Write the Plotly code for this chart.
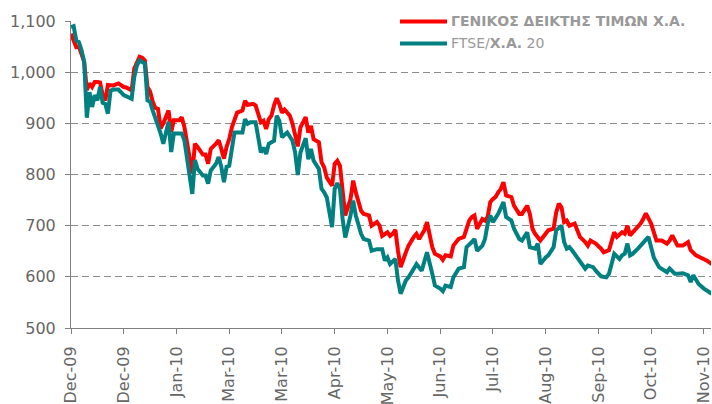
import plotly.graph_objects as go

# Trading-day index (0 = first session of Dec-09) and index levels
tick_days = [0, 20, 40, 60, 80, 100, 120, 140, 160, 180, 200, 220, 240]
tick_labels = ["Dec-09", "Dec-09", "Jan-10", "Mar-10", "Mar-10", "Apr-10", "May-10",
               "Jun-10", "Jul-10", "Aug-10", "Sep-10", "Oct-10", "Nov-10"]

gen_days = [0, 1, 2, 3, 4, 5, 6, 7, 8, 9, 10, 11, 12, 13, 14, 16, 18, 20, 21, 23, 24, 25, 26, 27, 28,
            29, 30, 31, 32, 33, 34, 35, 36, 37, 38, 39, 41, 42, 43, 44, 45, 46, 47, 48, 50, 51, 52, 53,
            55, 56, 57, 58, 59, 60, 61, 63, 65, 66, 67, 69, 70, 71, 72, 73, 74, 75, 76, 77, 78, 79, 80,
            81, 83, 84, 86, 87, 89, 90, 91, 92, 94, 95, 96, 97, 99, 100, 101, 102, 103, 104, 106, 107,
            108, 110, 111, 113, 114, 116, 117, 118, 120, 121, 122, 123, 124, 125, 127, 128, 130, 131,
            132, 134, 135, 137, 138, 140, 141, 142, 144, 145, 147, 149, 151, 152, 153, 154, 156, 157,
            158, 159, 160, 161, 162, 163, 164, 165, 167, 168, 170, 171, 173, 174, 175, 176, 178, 180,
            181, 183, 184, 185, 186, 187, 188, 189, 191, 192, 193, 195, 196, 197, 199, 201, 202, 204,
            205, 206, 207, 209, 210, 211, 212, 213, 214, 216, 217, 218, 220, 221, 222, 224, 226, 227,
            228, 230, 232, 234, 235, 237, 239, 241, 243]
gen_vals = [1075, 1062, 1049, 1050, 1036, 1020, 965, 978, 971, 981, 981, 980, 956, 945, 975, 974, 978,
            971, 970, 964, 1007, 1020, 1030, 1028, 1023, 971, 962, 942, 930, 928, 890, 900, 912, 925,
            883, 906, 906, 912, 893, 860, 830, 802, 860, 854, 839, 839, 821, 850, 860, 867, 850, 831,
            854, 869, 892, 921, 925, 944, 936, 938, 935, 920, 902, 905, 889, 908, 915, 935, 949, 938,
            921, 927, 915, 899, 855, 892, 912, 882, 895, 869, 863, 824, 814, 794, 778, 821, 827, 817,
            765, 720, 752, 788, 765, 729, 723, 720, 700, 707, 700, 680, 687, 680, 684, 692, 651, 619,
            648, 661, 678, 684, 674, 691, 707, 658, 645, 640, 633, 642, 640, 661, 674, 678, 710, 717,
            720, 694, 713, 710, 717, 746, 752, 756, 765, 772, 785, 759, 756, 739, 723, 723, 739, 723,
            694, 684, 671, 684, 691, 694, 726, 743, 736, 707, 710, 700, 704, 691, 678, 668, 661, 671,
            665, 655, 648, 652, 668, 687, 678, 687, 684, 700, 681, 687, 691, 704, 713, 724, 704, 687,
            671, 671, 665, 671, 681, 661, 661, 668, 652, 642, 638, 632, 625]

ftse_days = [0, 1, 2, 3, 4, 5, 6, 7, 8, 9, 10, 11, 12, 13, 14, 15, 16, 18, 20, 21, 23, 24, 25, 26, 28,
             29, 30, 31, 32, 33, 34, 35, 36, 37, 38, 39, 41, 42, 43, 45, 46, 47, 48, 50, 51, 52, 53,
             55, 56, 57, 58, 59, 60, 61, 62, 65, 66, 67, 68, 70, 72, 73, 74, 75, 77, 78, 79, 80, 82,
             84, 85, 86, 87, 89, 90, 91, 92, 94, 95, 96, 97, 99, 100, 101, 102, 103, 104, 106, 107,
             108, 110, 111, 113, 114, 116, 118, 119, 120, 121, 122, 123, 124, 125, 127, 128, 130, 131,
             133, 134, 135, 137, 138, 140, 141, 142, 144, 145, 147, 149, 150, 152, 153, 154, 156, 157,
             158, 159, 160, 162, 163, 164, 165, 167, 168, 170, 171, 173, 174, 176, 177, 178, 180, 181,
             183, 184, 186, 187, 188, 189, 190, 192, 193, 195, 196, 198, 199, 201, 203, 204, 205, 206,
             208, 209, 210, 211, 212, 213, 215, 216, 217, 219, 220, 221, 223, 224, 226, 227, 229, 230,
             232, 234, 235, 236, 238, 240, 241, 243]
ftse_vals = [1088, 1090, 1062, 1059, 1043, 1020, 911, 961, 932, 955, 945, 971, 940, 938, 919, 964, 966,
             966, 955, 953, 948, 991, 1013, 1023, 1017, 945, 942, 925, 909, 899, 880, 860, 883, 903, 844,
             880, 880, 880, 867, 795, 762, 828, 811, 798, 798, 782, 808, 821, 834, 815, 785, 815, 817,
             850, 882, 882, 908, 899, 902, 902, 843, 853, 840, 860, 866, 915, 905, 873, 882, 866, 843,
             799, 843, 871, 830, 850, 827, 811, 772, 765, 755, 697, 772, 783, 772, 713, 677, 720, 749,
             720, 684, 674, 671, 651, 654, 654, 632, 638, 625, 630, 635, 593, 567, 593, 599, 616, 625,
             612, 632, 648, 606, 583, 577, 572, 583, 580, 599, 616, 619, 658, 668, 674, 651, 661, 674,
             704, 720, 707, 723, 736, 746, 717, 710, 694, 674, 671, 687, 658, 655, 665, 625, 638, 642,
             658, 691, 700, 668, 655, 658, 652, 638, 629, 616, 622, 619, 612, 601, 599, 606, 625, 645,
             635, 642, 645, 665, 642, 645, 655, 661, 668, 678, 658, 638, 619, 616, 609, 616, 606, 606,
             607, 603, 590, 603, 586, 577, 573, 567]

RED = "#ff0000"
TEAL = "#008080"
GRAY_TXT = "#666666"
AXIS = "#808080"

fig = go.Figure()
fig.add_trace(go.Scatter(x=gen_days, y=gen_vals, mode="lines",
                         line=dict(color=RED, width=4), name="ΓΕΝΙΚΟΣ ΔΕΙΚΤΗΣ ΤΙΜΩΝ Χ.Α."))
fig.add_trace(go.Scatter(x=ftse_days, y=ftse_vals, mode="lines",
                         line=dict(color=TEAL, width=4), name="FTSE/Χ.Α. 20"))

PH = 307.2
# manual legend
fig.add_shape(type="line", xref="paper", yref="paper", x0=(400 - 71) / 640, x1=(447 - 71) / 640,
              y0=(327.7 - 21) / PH, y1=(327.7 - 21) / PH, line=dict(color=RED, width=4))
fig.add_shape(type="line", xref="paper", yref="paper", x0=(400 - 71) / 640, x1=(447 - 71) / 640,
              y0=(327.7 - 43) / PH, y1=(327.7 - 43) / PH, line=dict(color=TEAL, width=4))
fig.add_annotation(xref="paper", yref="paper", x=(449 - 71) / 640, y=(327.7 - 21) / PH,
                   xanchor="left", yanchor="middle", showarrow=False,
                   text="<b>ΓΕΝΙΚΟΣ ΔΕΙΚΤΗΣ ΤΙΜΩΝ Χ.Α.</b>",
                   font=dict(family="DejaVu Sans", size=14, color="#999999"))
fig.add_annotation(xref="paper", yref="paper", x=(449 - 71) / 640, y=(327.7 - 43) / PH,
                   xanchor="left", yanchor="middle", showarrow=False,
                   text="FTSE/<b>Χ.Α.</b> 20",
                   font=dict(family="DejaVu Sans", size=14, color="#999999"))

fig.update_layout(
    width=712, height=404,
    margin=dict(l=71, r=1, t=20.5, b=76.3, pad=0),
    paper_bgcolor="white", plot_bgcolor="white",
    showlegend=False,
    font=dict(family="DejaVu Sans", size=16, color=GRAY_TXT),
)
fig.update_xaxes(range=[0, 242.7], tickmode="array", tickvals=tick_days, ticktext=tick_labels,
                 tickangle=-90, ticks="outside", ticklen=5, tickcolor=AXIS,
                 showline=True, linecolor=AXIS, linewidth=1, showgrid=False, zeroline=False,
                 ticklabelstandoff=6, ticklabeloverflow="allow", automargin=False)
fig.update_yaxes(range=[500, 1100], tickvals=[500, 600, 700, 800, 900, 1000, 1100],
                 tickformat=",d", ticks="outside", ticklen=5, tickcolor=AXIS,
                 showline=True, linecolor=AXIS, linewidth=1,
                 showgrid=True, gridcolor="#8c8c8c", gridwidth=1, griddash="7px,4px",
                 zeroline=False, ticklabelstandoff=6, automargin=False)

fig.write_html("out.html",
               config={"displayModeBar": False},
               post_script="document.body.style.margin='0';document.body.style.padding='0';")
